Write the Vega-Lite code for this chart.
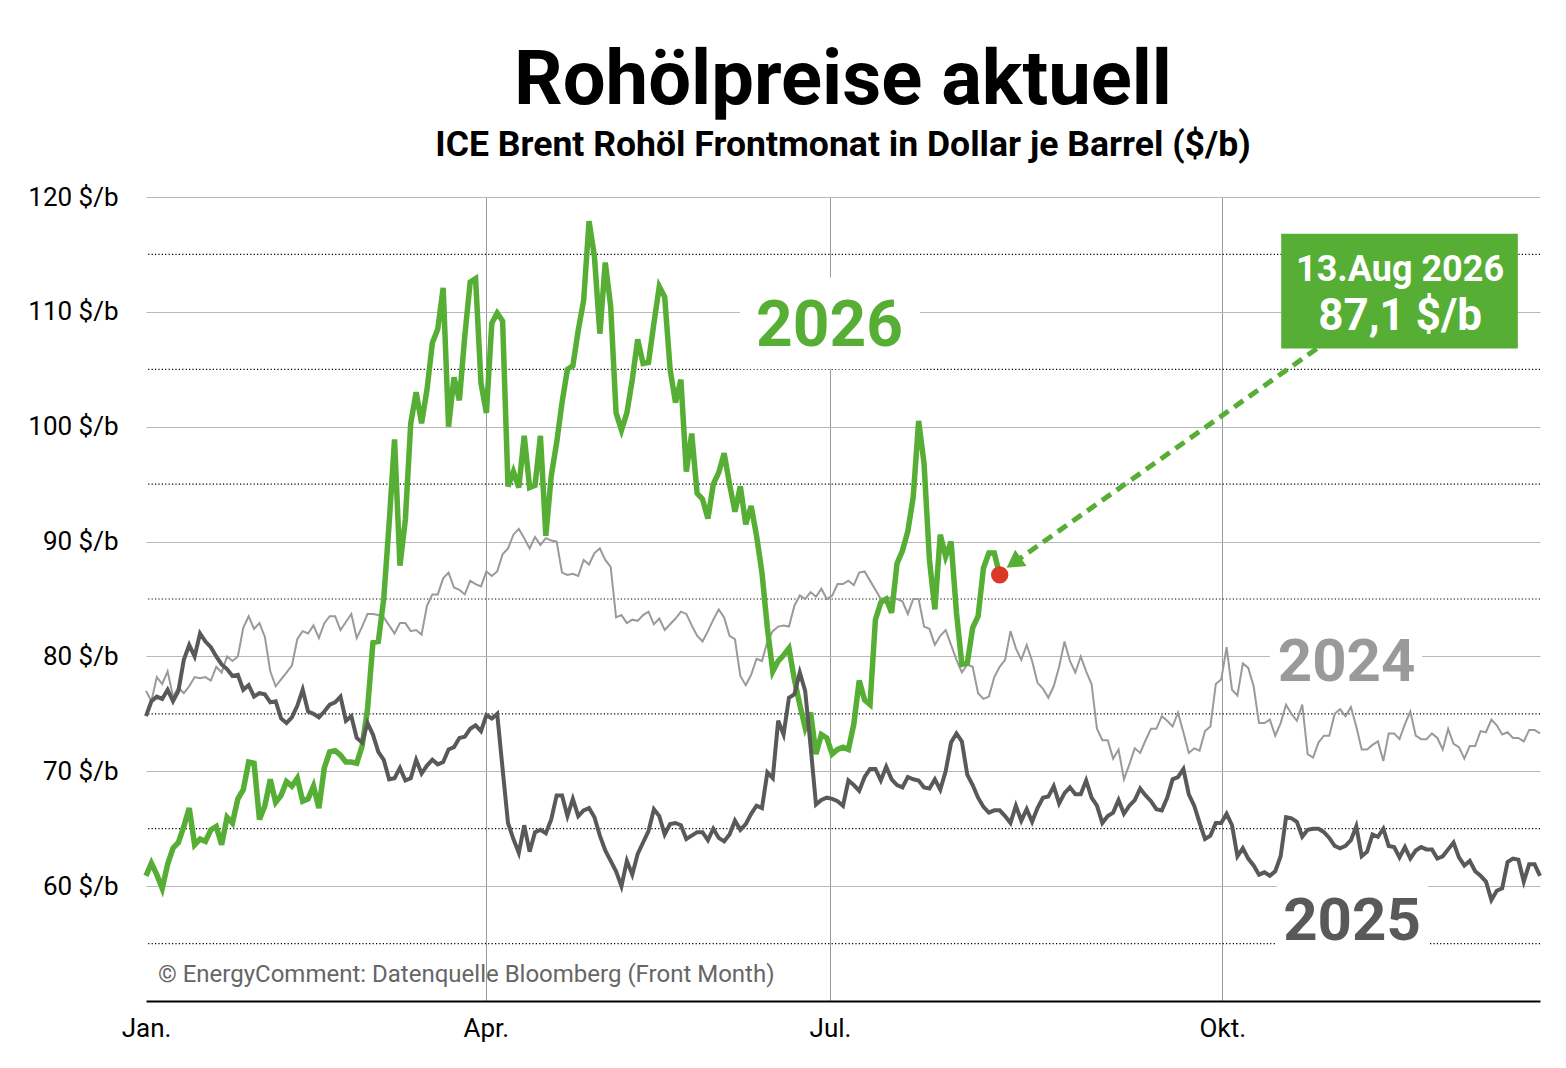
{
  "$schema": "https://vega.github.io/schema/vega-lite/v6.json",
  "autosize": {"type": "none"},
  "padding": {"left": 146, "top": 197, "right": 26, "bottom": 67},
  "width": 1394,
  "height": 804,
  "background": "white",
  "config": {"font": "Roboto", "view": {"stroke": null}},
  "title": {
    "text": "Rohölpreise aktuell",
    "subtitle": "ICE Brent Rohöl Frontmonat in Dollar je Barrel ($/b)",
    "fontSize": 76,
    "fontWeight": "bold",
    "color": "#000",
    "subtitleFontSize": 35.6,
    "subtitleFontWeight": "bold",
    "subtitleColor": "#000",
    "anchor": "middle",
    "frame": "group",
    "offset": 19,
    "subtitlePadding": 8
  },
  "datasets": {
    "y2024": [
      {"tag":0,"preis":77.0},{"tag":1,"preis":76.1},{"tag":2,"preis":78.2},{"tag":3,"preis":77.6},{"tag":4,"preis":78.7},{"tag":5,"preis":76.5},{"tag":6,"preis":77.3},{"tag":7,"preis":76.8},{"tag":8,"preis":77.4},{"tag":9,"preis":78.2},
      {"tag":10,"preis":78.1},{"tag":11,"preis":78.2},{"tag":12,"preis":77.9},{"tag":13,"preis":79.1},{"tag":14,"preis":78.6},{"tag":15,"preis":80.0},{"tag":16,"preis":79.6},{"tag":17,"preis":80.0},{"tag":18,"preis":82.5},{"tag":19,"preis":83.5},
      {"tag":20,"preis":82.4},{"tag":21,"preis":82.9},{"tag":22,"preis":81.7},{"tag":23,"preis":78.7},{"tag":24,"preis":77.4},{"tag":25,"preis":78.0},{"tag":26,"preis":78.6},{"tag":27,"preis":79.2},{"tag":28,"preis":81.5},{"tag":29,"preis":82.2},
      {"tag":30,"preis":82.0},{"tag":31,"preis":82.7},{"tag":32,"preis":81.6},{"tag":33,"preis":82.9},{"tag":34,"preis":83.5},{"tag":35,"preis":83.5},{"tag":36,"preis":82.3},{"tag":37,"preis":83.0},{"tag":38,"preis":83.7},{"tag":39,"preis":81.6},
      {"tag":40,"preis":82.6},{"tag":41,"preis":83.7},{"tag":42,"preis":83.7},{"tag":43,"preis":83.6},{"tag":44,"preis":83.4},{"tag":45,"preis":82.7},{"tag":46,"preis":82.0},{"tag":47,"preis":82.9},{"tag":48,"preis":82.9},{"tag":49,"preis":82.2},
      {"tag":50,"preis":82.3},{"tag":51,"preis":81.9},{"tag":52,"preis":84.4},{"tag":53,"preis":85.4},{"tag":54,"preis":85.4},{"tag":55,"preis":86.8},{"tag":56,"preis":87.3},{"tag":57,"preis":86.0},{"tag":58,"preis":85.8},{"tag":59,"preis":85.4},
      {"tag":60,"preis":86.6},{"tag":61,"preis":86.3},{"tag":62,"preis":86.1},{"tag":63,"preis":87.4},{"tag":64,"preis":87.0},{"tag":65,"preis":87.4},{"tag":66,"preis":88.9},{"tag":67,"preis":89.4},{"tag":68,"preis":90.6},{"tag":69,"preis":91.1},
      {"tag":70,"preis":90.3},{"tag":71,"preis":89.4},{"tag":72,"preis":90.4},{"tag":73,"preis":89.7},{"tag":74,"preis":90.3},{"tag":75,"preis":90.1},{"tag":76,"preis":90.0},{"tag":77,"preis":87.3},{"tag":78,"preis":87.1},{"tag":79,"preis":87.2},
      {"tag":80,"preis":87.0},{"tag":81,"preis":88.4},{"tag":82,"preis":88.0},{"tag":83,"preis":89.0},{"tag":84,"preis":89.4},{"tag":85,"preis":88.4},{"tag":86,"preis":87.8},{"tag":87,"preis":83.4},{"tag":88,"preis":83.6},{"tag":89,"preis":82.9},
      {"tag":90,"preis":83.2},{"tag":91,"preis":83.1},{"tag":92,"preis":83.6},{"tag":93,"preis":83.9},{"tag":94,"preis":82.8},{"tag":95,"preis":83.3},{"tag":96,"preis":82.3},{"tag":97,"preis":82.8},{"tag":98,"preis":83.3},{"tag":99,"preis":83.9},
      {"tag":100,"preis":83.7},{"tag":101,"preis":82.7},{"tag":102,"preis":81.8},{"tag":103,"preis":81.3},{"tag":104,"preis":82.2},{"tag":105,"preis":83.2},{"tag":106,"preis":84.1},{"tag":107,"preis":83.4},{"tag":108,"preis":81.8},{"tag":109,"preis":81.5},
      {"tag":110,"preis":78.3},{"tag":111,"preis":77.5},{"tag":112,"preis":78.4},{"tag":113,"preis":79.8},{"tag":114,"preis":79.6},{"tag":115,"preis":81.3},{"tag":116,"preis":82.2},{"tag":117,"preis":82.6},{"tag":118,"preis":82.7},{"tag":119,"preis":82.6},
      {"tag":120,"preis":84.4},{"tag":121,"preis":85.3},{"tag":122,"preis":85.0},{"tag":123,"preis":85.6},{"tag":124,"preis":85.2},{"tag":125,"preis":85.9},{"tag":126,"preis":85.0},{"tag":127,"preis":85.3},{"tag":128,"preis":86.3},{"tag":129,"preis":86.3},
      {"tag":130,"preis":86.6},{"tag":131,"preis":86.2},{"tag":132,"preis":87.3},{"tag":133,"preis":87.4},{"tag":134,"preis":86.6},{"tag":135,"preis":85.8},{"tag":136,"preis":85.0},{"tag":137,"preis":85.1},{"tag":138,"preis":85.1},{"tag":139,"preis":85.0},
      {"tag":140,"preis":84.8},{"tag":141,"preis":83.7},{"tag":142,"preis":85.0},{"tag":143,"preis":85.0},{"tag":144,"preis":82.6},{"tag":145,"preis":82.4},{"tag":146,"preis":81.0},{"tag":147,"preis":81.8},{"tag":148,"preis":82.3},{"tag":149,"preis":81.0},
      {"tag":150,"preis":79.7},{"tag":151,"preis":78.6},{"tag":152,"preis":79.3},{"tag":153,"preis":79.1},{"tag":154,"preis":76.8},{"tag":155,"preis":76.3},{"tag":156,"preis":76.5},{"tag":157,"preis":78.2},{"tag":158,"preis":79.1},{"tag":159,"preis":79.7},
      {"tag":160,"preis":82.2},{"tag":161,"preis":80.7},{"tag":162,"preis":79.7},{"tag":163,"preis":81.0},{"tag":164,"preis":79.6},{"tag":165,"preis":77.7},{"tag":166,"preis":77.2},{"tag":167,"preis":76.4},{"tag":168,"preis":77.4},{"tag":169,"preis":79.1},
      {"tag":170,"preis":81.3},{"tag":171,"preis":79.6},{"tag":172,"preis":78.6},{"tag":173,"preis":80.0},{"tag":174,"preis":78.7},{"tag":175,"preis":77.6},{"tag":176,"preis":73.7},{"tag":177,"preis":72.7},{"tag":178,"preis":72.7},{"tag":179,"preis":71.1},
      {"tag":180,"preis":71.9},{"tag":181,"preis":69.3},{"tag":182,"preis":70.6},{"tag":183,"preis":72.0},{"tag":184,"preis":71.6},{"tag":185,"preis":72.7},{"tag":186,"preis":73.7},{"tag":187,"preis":73.7},{"tag":188,"preis":74.8},{"tag":189,"preis":74.4},
      {"tag":190,"preis":73.9},{"tag":191,"preis":75.1},{"tag":192,"preis":73.4},{"tag":193,"preis":71.6},{"tag":194,"preis":72.0},{"tag":195,"preis":71.8},{"tag":196,"preis":73.5},{"tag":197,"preis":73.9},{"tag":198,"preis":77.6},{"tag":199,"preis":78.0},
      {"tag":200,"preis":80.8},{"tag":201,"preis":77.1},{"tag":202,"preis":76.6},{"tag":203,"preis":79.4},{"tag":204,"preis":79.0},{"tag":205,"preis":77.4},{"tag":206,"preis":74.2},{"tag":207,"preis":74.2},{"tag":208,"preis":74.5},{"tag":209,"preis":73.1},
      {"tag":210,"preis":74.2},{"tag":211,"preis":75.8},{"tag":212,"preis":75.0},{"tag":213,"preis":74.4},{"tag":214,"preis":75.8},{"tag":215,"preis":71.5},{"tag":216,"preis":71.2},{"tag":217,"preis":72.5},{"tag":218,"preis":73.1},{"tag":219,"preis":73.1},
      {"tag":220,"preis":75.0},{"tag":221,"preis":75.4},{"tag":222,"preis":74.8},{"tag":223,"preis":75.6},{"tag":224,"preis":73.9},{"tag":225,"preis":71.9},{"tag":226,"preis":71.9},{"tag":227,"preis":72.3},{"tag":228,"preis":72.6},{"tag":229,"preis":70.9},
      {"tag":230,"preis":73.3},{"tag":231,"preis":73.3},{"tag":232,"preis":72.8},{"tag":233,"preis":74.1},{"tag":234,"preis":75.2},{"tag":235,"preis":73.1},{"tag":236,"preis":72.8},{"tag":237,"preis":72.8},{"tag":238,"preis":73.3},{"tag":239,"preis":72.9},
      {"tag":240,"preis":71.9},{"tag":241,"preis":73.7},{"tag":242,"preis":72.4},{"tag":243,"preis":72.1},{"tag":244,"preis":71.1},{"tag":245,"preis":72.2},{"tag":246,"preis":72.2},{"tag":247,"preis":73.5},{"tag":248,"preis":73.4},{"tag":249,"preis":74.5},
      {"tag":250,"preis":74.0},{"tag":251,"preis":73.2},{"tag":252,"preis":73.4},{"tag":253,"preis":72.9},{"tag":254,"preis":72.9},{"tag":255,"preis":72.6},{"tag":256,"preis":73.6},{"tag":257,"preis":73.6},{"tag":258,"preis":73.3}
    ],
    "y2025": [
      {"tag":0,"preis":74.8},{"tag":1,"preis":76.1},{"tag":2,"preis":76.5},{"tag":3,"preis":76.3},{"tag":4,"preis":77.1},{"tag":5,"preis":76.1},{"tag":6,"preis":77.0},{"tag":7,"preis":79.7},{"tag":8,"preis":81.0},{"tag":9,"preis":80.0},
      {"tag":10,"preis":82.0},{"tag":11,"preis":81.3},{"tag":12,"preis":80.8},{"tag":13,"preis":80.0},{"tag":14,"preis":79.3},{"tag":15,"preis":78.9},{"tag":16,"preis":78.3},{"tag":17,"preis":78.4},{"tag":18,"preis":77.1},{"tag":19,"preis":77.5},
      {"tag":20,"preis":76.5},{"tag":21,"preis":76.8},{"tag":22,"preis":76.7},{"tag":23,"preis":76.0},{"tag":24,"preis":76.1},{"tag":25,"preis":74.6},{"tag":26,"preis":74.2},{"tag":27,"preis":74.7},{"tag":28,"preis":75.7},{"tag":29,"preis":77.1},
      {"tag":30,"preis":75.2},{"tag":31,"preis":75.0},{"tag":32,"preis":74.7},{"tag":33,"preis":75.2},{"tag":34,"preis":75.8},{"tag":35,"preis":76.0},{"tag":36,"preis":76.5},{"tag":37,"preis":74.4},{"tag":38,"preis":74.8},{"tag":39,"preis":72.9},
      {"tag":40,"preis":72.5},{"tag":41,"preis":74.2},{"tag":42,"preis":73.2},{"tag":43,"preis":71.7},{"tag":44,"preis":71.0},{"tag":45,"preis":69.3},{"tag":46,"preis":69.4},{"tag":47,"preis":70.3},{"tag":48,"preis":69.2},{"tag":49,"preis":69.4},
      {"tag":50,"preis":71.0},{"tag":51,"preis":69.8},{"tag":52,"preis":70.5},{"tag":53,"preis":71.0},{"tag":54,"preis":70.6},{"tag":55,"preis":70.8},{"tag":56,"preis":71.9},{"tag":57,"preis":72.1},{"tag":58,"preis":72.9},{"tag":59,"preis":73.0},
      {"tag":60,"preis":73.7},{"tag":61,"preis":74.0},{"tag":62,"preis":73.5},{"tag":63,"preis":74.9},{"tag":64,"preis":74.6},{"tag":65,"preis":75.0},{"tag":66,"preis":70.2},{"tag":67,"preis":65.5},{"tag":68,"preis":64.1},{"tag":69,"preis":62.9},
      {"tag":70,"preis":65.3},{"tag":71,"preis":63.0},{"tag":72,"preis":64.7},{"tag":73,"preis":64.9},{"tag":74,"preis":64.6},{"tag":75,"preis":65.8},{"tag":76,"preis":67.9},{"tag":77,"preis":67.9},{"tag":78,"preis":66.1},{"tag":79,"preis":67.6},
      {"tag":80,"preis":66.1},{"tag":81,"preis":66.6},{"tag":82,"preis":66.8},{"tag":83,"preis":66.0},{"tag":84,"preis":64.4},{"tag":85,"preis":63.1},{"tag":86,"preis":62.2},{"tag":87,"preis":61.3},{"tag":88,"preis":60.0},{"tag":89,"preis":62.2},
      {"tag":90,"preis":61.0},{"tag":91,"preis":62.8},{"tag":92,"preis":63.8},{"tag":93,"preis":64.8},{"tag":94,"preis":66.7},{"tag":95,"preis":66.1},{"tag":96,"preis":64.5},{"tag":97,"preis":65.4},{"tag":98,"preis":65.5},{"tag":99,"preis":65.3},
      {"tag":100,"preis":64.1},{"tag":101,"preis":64.4},{"tag":102,"preis":64.7},{"tag":103,"preis":64.7},{"tag":104,"preis":64.0},{"tag":105,"preis":65.0},{"tag":106,"preis":64.2},{"tag":107,"preis":63.9},{"tag":108,"preis":64.5},{"tag":109,"preis":65.7},
      {"tag":110,"preis":64.9},{"tag":111,"preis":65.4},{"tag":112,"preis":66.3},{"tag":113,"preis":67.0},{"tag":114,"preis":66.8},{"tag":115,"preis":69.9},{"tag":116,"preis":69.4},{"tag":117,"preis":74.4},{"tag":118,"preis":73.2},{"tag":119,"preis":76.4},
      {"tag":120,"preis":76.7},{"tag":121,"preis":78.6},{"tag":122,"preis":77.0},{"tag":123,"preis":72.2},{"tag":124,"preis":67.1},{"tag":125,"preis":67.5},{"tag":126,"preis":67.7},{"tag":127,"preis":67.6},{"tag":128,"preis":67.4},{"tag":129,"preis":67.0},
      {"tag":130,"preis":69.2},{"tag":131,"preis":68.8},{"tag":132,"preis":68.3},{"tag":133,"preis":69.5},{"tag":134,"preis":70.2},{"tag":135,"preis":70.2},{"tag":136,"preis":69.2},{"tag":137,"preis":70.4},{"tag":138,"preis":69.3},{"tag":139,"preis":68.8},
      {"tag":140,"preis":68.6},{"tag":141,"preis":69.5},{"tag":142,"preis":69.3},{"tag":143,"preis":69.2},{"tag":144,"preis":68.6},{"tag":145,"preis":68.5},{"tag":146,"preis":69.3},{"tag":147,"preis":68.4},{"tag":148,"preis":70.0},{"tag":149,"preis":72.5},
      {"tag":150,"preis":73.3},{"tag":151,"preis":72.6},{"tag":152,"preis":69.7},{"tag":153,"preis":68.8},{"tag":154,"preis":67.7},{"tag":155,"preis":66.9},{"tag":156,"preis":66.4},{"tag":157,"preis":66.6},{"tag":158,"preis":66.6},{"tag":159,"preis":66.1},
      {"tag":160,"preis":65.5},{"tag":161,"preis":67.0},{"tag":162,"preis":65.7},{"tag":163,"preis":66.7},{"tag":164,"preis":65.6},{"tag":165,"preis":66.8},{"tag":166,"preis":67.7},{"tag":167,"preis":67.8},{"tag":168,"preis":68.7},{"tag":169,"preis":67.2},
      {"tag":170,"preis":68.1},{"tag":171,"preis":68.6},{"tag":172,"preis":68.0},{"tag":173,"preis":68.0},{"tag":174,"preis":69.2},{"tag":175,"preis":67.7},{"tag":176,"preis":67.0},{"tag":177,"preis":65.5},{"tag":178,"preis":66.1},{"tag":179,"preis":66.4},
      {"tag":180,"preis":67.5},{"tag":181,"preis":66.3},{"tag":182,"preis":67.0},{"tag":183,"preis":67.5},{"tag":184,"preis":68.5},{"tag":185,"preis":67.9},{"tag":186,"preis":67.4},{"tag":187,"preis":66.7},{"tag":188,"preis":66.6},{"tag":189,"preis":67.7},
      {"tag":190,"preis":69.3},{"tag":191,"preis":69.5},{"tag":192,"preis":70.2},{"tag":193,"preis":68.0},{"tag":194,"preis":67.0},{"tag":195,"preis":65.5},{"tag":196,"preis":64.1},{"tag":197,"preis":64.4},{"tag":198,"preis":65.5},{"tag":199,"preis":65.5},
      {"tag":200,"preis":66.3},{"tag":201,"preis":65.3},{"tag":202,"preis":62.6},{"tag":203,"preis":63.3},{"tag":204,"preis":62.4},{"tag":205,"preis":61.8},{"tag":206,"preis":61.0},{"tag":207,"preis":61.2},{"tag":208,"preis":60.9},{"tag":209,"preis":61.3},
      {"tag":210,"preis":62.6},{"tag":211,"preis":66.0},{"tag":212,"preis":65.9},{"tag":213,"preis":65.6},{"tag":214,"preis":64.3},{"tag":215,"preis":64.9},{"tag":216,"preis":65.0},{"tag":217,"preis":65.0},{"tag":218,"preis":64.7},{"tag":219,"preis":64.2},
      {"tag":220,"preis":63.5},{"tag":221,"preis":63.3},{"tag":222,"preis":63.5},{"tag":223,"preis":64.0},{"tag":224,"preis":65.2},{"tag":225,"preis":62.6},{"tag":226,"preis":63.0},{"tag":227,"preis":64.5},{"tag":228,"preis":64.3},{"tag":229,"preis":65.0},
      {"tag":230,"preis":63.5},{"tag":231,"preis":63.4},{"tag":232,"preis":62.5},{"tag":233,"preis":63.4},{"tag":234,"preis":62.4},{"tag":235,"preis":63.1},{"tag":236,"preis":63.4},{"tag":237,"preis":63.2},{"tag":238,"preis":63.2},{"tag":239,"preis":62.4},
      {"tag":240,"preis":62.6},{"tag":241,"preis":63.2},{"tag":242,"preis":63.8},{"tag":243,"preis":62.5},{"tag":244,"preis":61.8},{"tag":245,"preis":62.2},{"tag":246,"preis":61.3},{"tag":247,"preis":60.9},{"tag":248,"preis":60.4},{"tag":249,"preis":58.8},
      {"tag":250,"preis":59.6},{"tag":251,"preis":59.8},{"tag":252,"preis":62.1},{"tag":253,"preis":62.4},{"tag":254,"preis":62.3},{"tag":255,"preis":60.4},{"tag":256,"preis":61.9},{"tag":257,"preis":61.9},{"tag":258,"preis":60.9}
    ],
    "y2026": [
      {"tag":0,"preis":60.9},{"tag":1,"preis":62.0},{"tag":2,"preis":61.0},{"tag":3,"preis":59.8},{"tag":4,"preis":61.9},{"tag":5,"preis":63.3},{"tag":6,"preis":63.8},{"tag":7,"preis":65.2},{"tag":8,"preis":66.8},{"tag":9,"preis":63.6},
      {"tag":10,"preis":64.1},{"tag":11,"preis":63.9},{"tag":12,"preis":64.9},{"tag":13,"preis":65.2},{"tag":14,"preis":63.6},{"tag":15,"preis":66.0},{"tag":16,"preis":65.5},{"tag":17,"preis":67.6},{"tag":18,"preis":68.4},{"tag":19,"preis":70.8},
      {"tag":20,"preis":70.7},{"tag":21,"preis":65.8},{"tag":22,"preis":67.0},{"tag":23,"preis":69.3},{"tag":24,"preis":67.3},{"tag":25,"preis":67.9},{"tag":26,"preis":69.1},{"tag":27,"preis":68.7},{"tag":28,"preis":69.4},{"tag":29,"preis":67.4},
      {"tag":30,"preis":67.6},{"tag":31,"preis":68.7},{"tag":32,"preis":66.8},{"tag":33,"preis":70.3},{"tag":34,"preis":71.7},{"tag":35,"preis":71.8},{"tag":36,"preis":71.4},{"tag":37,"preis":70.8},{"tag":38,"preis":70.8},{"tag":39,"preis":70.7},
      {"tag":40,"preis":72.2},{"tag":41,"preis":75.4},{"tag":42,"preis":81.2},{"tag":43,"preis":81.3},{"tag":44,"preis":85.0},{"tag":45,"preis":91.6},{"tag":46,"preis":98.9},{"tag":47,"preis":87.9},{"tag":48,"preis":91.9},{"tag":49,"preis":100.3},
      {"tag":50,"preis":103.0},{"tag":51,"preis":100.3},{"tag":52,"preis":103.2},{"tag":53,"preis":107.3},{"tag":54,"preis":108.5},{"tag":55,"preis":112.1},{"tag":56,"preis":100.0},{"tag":57,"preis":104.3},{"tag":58,"preis":102.3},{"tag":59,"preis":107.9},
      {"tag":60,"preis":112.6},{"tag":61,"preis":112.9},{"tag":62,"preis":103.8},{"tag":63,"preis":101.2},{"tag":64,"preis":109.0},{"tag":65,"preis":109.9},{"tag":66,"preis":109.2},{"tag":67,"preis":94.8},{"tag":68,"preis":96.1},{"tag":69,"preis":94.7},
      {"tag":70,"preis":99.2},{"tag":71,"preis":94.7},{"tag":72,"preis":94.9},{"tag":73,"preis":99.2},{"tag":74,"preis":90.5},{"tag":75,"preis":95.7},{"tag":76,"preis":98.6},{"tag":77,"preis":102.1},{"tag":78,"preis":105.0},{"tag":79,"preis":105.3},
      {"tag":80,"preis":108.4},{"tag":81,"preis":111.0},{"tag":82,"preis":117.9},{"tag":83,"preis":114.8},{"tag":84,"preis":108.1},{"tag":85,"preis":114.3},{"tag":86,"preis":110.5},{"tag":87,"preis":101.2},{"tag":88,"preis":99.7},{"tag":89,"preis":101.2},
      {"tag":90,"preis":104.1},{"tag":91,"preis":107.6},{"tag":92,"preis":105.5},{"tag":93,"preis":105.6},{"tag":94,"preis":109.0},{"tag":95,"preis":112.2},{"tag":96,"preis":111.3},{"tag":97,"preis":105.0},{"tag":98,"preis":102.1},{"tag":99,"preis":104.1},
      {"tag":100,"preis":96.1},{"tag":101,"preis":99.4},{"tag":102,"preis":94.2},{"tag":103,"preis":93.7},{"tag":104,"preis":92.0},{"tag":105,"preis":95.0},{"tag":106,"preis":96.0},{"tag":107,"preis":97.7},{"tag":108,"preis":95.0},{"tag":109,"preis":92.6},
      {"tag":110,"preis":94.8},{"tag":111,"preis":91.5},{"tag":112,"preis":93.1},{"tag":113,"preis":90.5},{"tag":114,"preis":87.3},{"tag":115,"preis":82.5},{"tag":116,"preis":78.7},{"tag":117,"preis":79.6},{"tag":118,"preis":80.1},{"tag":119,"preis":80.7},
      {"tag":120,"preis":78.0},{"tag":121,"preis":75.8},{"tag":122,"preis":73.8},{"tag":123,"preis":75.1},{"tag":124,"preis":71.5},{"tag":125,"preis":73.2},{"tag":126,"preis":72.9},{"tag":127,"preis":71.5},{"tag":128,"preis":71.9},{"tag":129,"preis":72.1},
      {"tag":130,"preis":71.9},{"tag":131,"preis":74.1},{"tag":132,"preis":77.9},{"tag":133,"preis":76.2},{"tag":134,"preis":75.8},{"tag":135,"preis":83.2},{"tag":136,"preis":84.7},{"tag":137,"preis":85.0},{"tag":138,"preis":83.8},{"tag":139,"preis":88.1},
      {"tag":140,"preis":89.2},{"tag":141,"preis":90.9},{"tag":142,"preis":93.9},{"tag":143,"preis":100.5},{"tag":144,"preis":96.8},{"tag":145,"preis":88.4},{"tag":146,"preis":84.1},{"tag":147,"preis":90.6},{"tag":148,"preis":88.7},{"tag":149,"preis":90.0},
      {"tag":150,"preis":83.8},{"tag":151,"preis":79.3},{"tag":152,"preis":79.4},{"tag":153,"preis":82.5},{"tag":154,"preis":83.5},{"tag":155,"preis":87.7},{"tag":156,"preis":89.0},{"tag":157,"preis":89.0},{"tag":158,"preis":87.1}
    ],
    "punktraster": [
      {"preis":55},{"preis":65},{"preis":75},{"preis":85},{"preis":95},{"preis":105},{"preis":115}
    ],
    "pfeil": [
      {"tag":219.1,"preis":107.6},{"tag":160.6,"preis":88.15}
    ]
  },
  "layer": [
    {
      "data": {"name": "y2024"},
      "mark": {"type": "line", "color": "#9a9a9a", "strokeWidth": 2, "opacity": 0},
      "encoding": {
        "x": {
          "field": "tag", "type": "quantitative",
          "scale": {"domain": [0, 258], "nice": false, "zero": false},
          "axis": {
            "title": null,
            "values": [0, 62.9, 126.6, 199.2],
            "labelExpr": "datum.value == 0 ? 'Jan.' : datum.value < 100 ? 'Apr.' : datum.value < 150 ? 'Jul.' : 'Okt.'",
            "labelFontSize": 26,
            "labelColor": "#000",
            "labelFlush": false,
            "labelOverlap": false,
            "labelPadding": 14,
            "ticks": false,
            "tickSize": 0,
            "domainColor": "#000",
            "domainWidth": 2,
            "grid": true,
            "gridColor": "#9a9a9a",
            "gridWidth": 1,
            "gridOpacity": {"condition": {"test": "datum.value == 0", "value": 0}, "value": 1}
          }
        },
        "y": {
          "field": "preis", "type": "quantitative",
          "scale": {"domain": [50, 120], "nice": false, "zero": false},
          "axis": {
            "title": null,
            "values": [60, 70, 80, 90, 100, 110, 120],
            "labelExpr": "datum.value + ' $/b'",
            "labelFontSize": 26,
            "labelColor": "#000",
            "labelPadding": 28,
            "ticks": false,
            "tickSize": 0,
            "domain": false,
            "grid": true,
            "gridColor": "#b8b8b8",
            "gridWidth": 1
          }
        }
      }
    },
    {
      "data": {"name": "punktraster"},
      "mark": {"type": "rule", "color": "#000", "strokeWidth": 1.2, "strokeDash": [1.2, 2.2]},
      "encoding": {
        "y": {"field": "preis", "type": "quantitative"}
      }
    },
    {
      "data": {"values": [{}]},
      "mark": {"type": "rect", "color": "white"},
      "encoding": {
        "x": {"datum": 109.9, "type": "quantitative"},
        "x2": {"datum": 143.3},
        "y": {"datum": 113.0, "type": "quantitative"},
        "y2": {"datum": 105.0}
      }
    },
    {
      "data": {"values": [{}]},
      "mark": {"type": "rect", "color": "white"},
      "encoding": {
        "x": {"datum": 208.0, "type": "quantitative"},
        "x2": {"datum": 236.2},
        "y": {"datum": 82.3, "type": "quantitative"},
        "y2": {"datum": 77.1}
      }
    },
    {
      "data": {"values": [{}]},
      "mark": {"type": "rect", "color": "white"},
      "encoding": {
        "x": {"datum": 209.3, "type": "quantitative"},
        "x2": {"datum": 237.3},
        "y": {"datum": 60.4, "type": "quantitative"},
        "y2": {"datum": 54.0}
      }
    },
    {
      "data": {"name": "y2024"},
      "mark": {"type": "line", "color": "#9a9a9a", "strokeWidth": 2},
      "encoding": {
        "x": {"field": "tag", "type": "quantitative"},
        "y": {"field": "preis", "type": "quantitative"}
      }
    },
    {
      "data": {"name": "y2026"},
      "mark": {"type": "line", "color": "#56ae35", "strokeWidth": 5.5},
      "encoding": {
        "x": {"field": "tag", "type": "quantitative"},
        "y": {"field": "preis", "type": "quantitative"}
      }
    },
    {
      "data": {"name": "y2025"},
      "mark": {"type": "line", "color": "#595959", "strokeWidth": 4},
      "encoding": {
        "x": {"field": "tag", "type": "quantitative"},
        "y": {"field": "preis", "type": "quantitative"}
      }
    },
    {
      "data": {"name": "pfeil"},
      "mark": {"type": "line", "color": "#56ae35", "strokeWidth": 5, "strokeDash": [11, 7]},
      "encoding": {
        "x": {"field": "tag", "type": "quantitative"},
        "y": {"field": "preis", "type": "quantitative"}
      }
    },
    {
      "data": {"values": [{}]},
      "mark": {"type": "point", "shape": "triangle-up", "filled": true, "color": "#56ae35", "opacity": 1, "size": 400, "angle": 235},
      "encoding": {
        "x": {"datum": 160.6, "type": "quantitative"},
        "y": {"datum": 88.15, "type": "quantitative"}
      }
    },
    {
      "data": {"name": "y2026"},
      "transform": [
        {"joinaggregate": [{"op": "max", "field": "tag", "as": "letzter"}]},
        {"filter": "datum.tag == datum.letzter"}
      ],
      "mark": {"type": "circle", "color": "#d93a26", "opacity": 1, "size": 300},
      "encoding": {
        "x": {"field": "tag", "type": "quantitative"},
        "y": {"field": "preis", "type": "quantitative"}
      }
    },
    {
      "data": {"values": [{}]},
      "mark": {"type": "rect", "color": "#56ae35"},
      "encoding": {
        "x": {"datum": 210.1, "type": "quantitative"},
        "x2": {"datum": 253.9},
        "y": {"datum": 116.8, "type": "quantitative"},
        "y2": {"datum": 106.8}
      }
    },
    {
      "data": {"values": [{}]},
      "mark": {"type": "text", "color": "white", "fontSize": 36, "fontWeight": "bold", "align": "center", "baseline": "alphabetic"},
      "encoding": {
        "x": {"datum": 232.1, "type": "quantitative"},
        "y": {"datum": 112.7, "type": "quantitative"},
        "text": {"value": "13.Aug 2026"}
      }
    },
    {
      "data": {"values": [{}]},
      "mark": {"type": "text", "color": "white", "fontSize": 44, "fontWeight": "bold", "align": "center", "baseline": "alphabetic"},
      "encoding": {
        "x": {"datum": 232.1, "type": "quantitative"},
        "y": {"datum": 108.4, "type": "quantitative"},
        "text": {"value": "87,1 $/b"}
      }
    },
    {
      "data": {"values": [{}]},
      "mark": {"type": "text", "color": "#56ae35", "fontSize": 64, "fontWeight": "bold", "align": "center", "baseline": "alphabetic"},
      "encoding": {
        "x": {"datum": 126.5, "type": "quantitative"},
        "y": {"datum": 107.0, "type": "quantitative"},
        "text": {"value": "2026"}
      }
    },
    {
      "data": {"values": [{}]},
      "mark": {"type": "text", "color": "#9a9a9a", "fontSize": 60, "fontWeight": "bold", "align": "center", "baseline": "alphabetic"},
      "encoding": {
        "x": {"datum": 222.2, "type": "quantitative"},
        "y": {"datum": 77.85, "type": "quantitative"},
        "text": {"value": "2024"}
      }
    },
    {
      "data": {"values": [{}]},
      "mark": {"type": "text", "color": "#595959", "fontSize": 60, "fontWeight": "bold", "align": "center", "baseline": "alphabetic"},
      "encoding": {
        "x": {"datum": 223.2, "type": "quantitative"},
        "y": {"datum": 55.33, "type": "quantitative"},
        "text": {"value": "2025"}
      }
    },
    {
      "data": {"values": [{}]},
      "mark": {"type": "text", "color": "#666666", "fontSize": 24, "align": "left", "baseline": "alphabetic"},
      "encoding": {
        "x": {"datum": 2.2, "type": "quantitative"},
        "y": {"datum": 51.65, "type": "quantitative"},
        "text": {"value": "© EnergyComment: Datenquelle Bloomberg (Front Month)"}
      }
    }
  ]
}
